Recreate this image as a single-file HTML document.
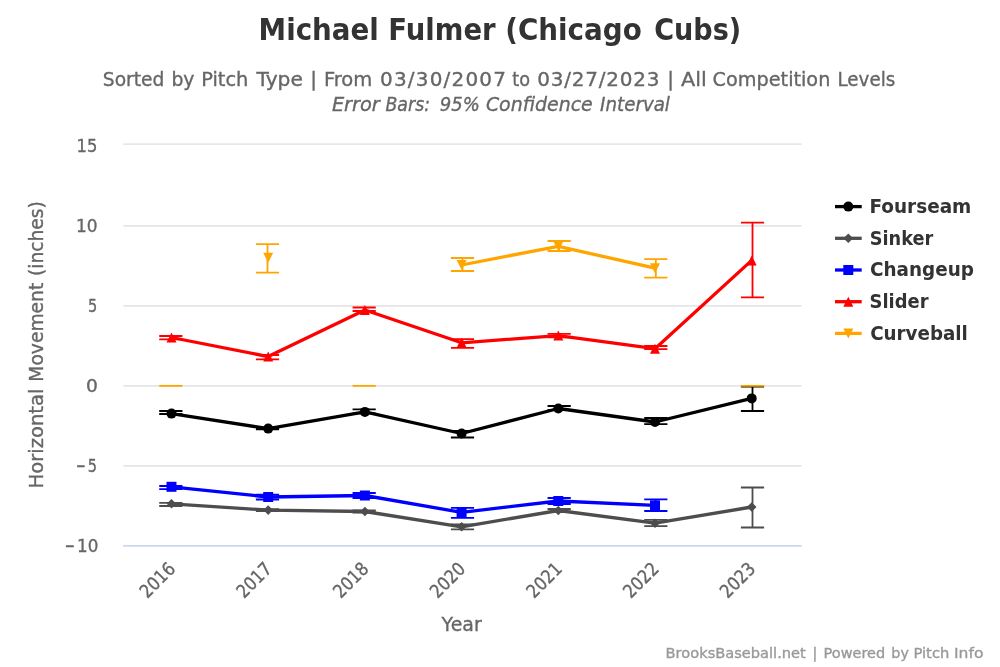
<!DOCTYPE html>
<html lang="en"><head><meta charset="utf-8"><title>Michael Fulmer (Chicago Cubs)</title>
<style>html,body{margin:0;padding:0;background:#fff;}body{width:1000px;height:667px;overflow:hidden;}svg{display:block;}text{font-family:'DejaVu Sans', 'Liberation Sans', sans-serif;}</style></head><body>
<svg width="1000" height="667" viewBox="0 0 1000 667">
<rect x="0" y="0" width="1000" height="667" fill="#ffffff"/>
<path d="M123.2 144.20L801.6 144.20" stroke="#e6e6e6" stroke-width="1.67" fill="none"/>
<path d="M123.2 225.85L801.6 225.85" stroke="#e6e6e6" stroke-width="1.67" fill="none"/>
<path d="M123.2 305.85L801.6 305.85" stroke="#e6e6e6" stroke-width="1.67" fill="none"/>
<path d="M123.2 385.85L801.6 385.85" stroke="#e6e6e6" stroke-width="1.67" fill="none"/>
<path d="M123.2 465.85L801.6 465.85" stroke="#e6e6e6" stroke-width="1.67" fill="none"/>
<path d="M123.2 545.85L801.6 545.85" stroke="#ccd6eb" stroke-width="1.67" fill="none"/>
<text x="76.54" y="151.65" font-size="18.33" fill="#666666" stroke="#666666" stroke-width="0.35" textLength="20.80" lengthAdjust="spacingAndGlyphs">15</text>
<text x="76.07" y="231.65" font-size="18.33" fill="#666666" stroke="#666666" stroke-width="0.35" textLength="21.54" lengthAdjust="spacingAndGlyphs">10</text>
<text x="88.10" y="311.65" font-size="18.33" fill="#666666" stroke="#666666" stroke-width="0.35" textLength="9.27" lengthAdjust="spacingAndGlyphs">5</text>
<text x="86.00" y="391.65" font-size="18.33" fill="#666666" stroke="#666666" stroke-width="0.35" textLength="11.87" lengthAdjust="spacingAndGlyphs">0</text>
<text y="471.65" font-size="18.33" fill="#666666" stroke="#666666" stroke-width="0.35"><tspan x="75.89" textLength="9.70" lengthAdjust="spacingAndGlyphs">−</tspan><tspan x="87.75" textLength="9.25" lengthAdjust="spacingAndGlyphs">5</tspan></text>
<text y="551.65" font-size="18.33" fill="#666666" stroke="#666666" stroke-width="0.35"><tspan x="64.70" textLength="10.23" lengthAdjust="spacingAndGlyphs">−</tspan><tspan x="77.00" textLength="21.30" lengthAdjust="spacingAndGlyphs">10</tspan></text>
<text transform="translate(43.40,0) rotate(-90)" y="0" font-size="20" fill="#666666" stroke="#666666" stroke-width="0.35"><tspan x="-488.52" textLength="100.02" lengthAdjust="spacingAndGlyphs">Horizontal</tspan> <tspan x="-381.73" textLength="99.01" lengthAdjust="spacingAndGlyphs">Movement</tspan> <tspan x="-275.94" textLength="74.75" lengthAdjust="spacingAndGlyphs">(inches)</tspan></text>
<text transform="translate(147.30,599.03) rotate(-45)" font-size="18.33" fill="#666666" stroke="#666666" stroke-width="0.35" textLength="41.17" lengthAdjust="spacingAndGlyphs">2016</text>
<text transform="translate(244.00,599.03) rotate(-45)" font-size="18.33" fill="#666666" stroke="#666666" stroke-width="0.35" textLength="41.17" lengthAdjust="spacingAndGlyphs">2017</text>
<text transform="translate(340.70,599.03) rotate(-45)" font-size="18.33" fill="#666666" stroke="#666666" stroke-width="0.35" textLength="41.17" lengthAdjust="spacingAndGlyphs">2018</text>
<text transform="translate(437.40,599.03) rotate(-45)" font-size="18.33" fill="#666666" stroke="#666666" stroke-width="0.35" textLength="41.17" lengthAdjust="spacingAndGlyphs">2020</text>
<text transform="translate(534.10,599.03) rotate(-45)" font-size="18.33" fill="#666666" stroke="#666666" stroke-width="0.35" textLength="41.17" lengthAdjust="spacingAndGlyphs">2021</text>
<text transform="translate(630.80,599.03) rotate(-45)" font-size="18.33" fill="#666666" stroke="#666666" stroke-width="0.35" textLength="41.17" lengthAdjust="spacingAndGlyphs">2022</text>
<text transform="translate(727.50,599.03) rotate(-45)" font-size="18.33" fill="#666666" stroke="#666666" stroke-width="0.35" textLength="41.17" lengthAdjust="spacingAndGlyphs">2023</text>
<text x="441.61" y="630.80" font-size="20" fill="#666666" stroke="#666666" stroke-width="0.35" textLength="40.05" lengthAdjust="spacingAndGlyphs">Year</text>
<text y="39.80" font-size="30" fill="#333333" font-weight="bold"><tspan x="258.57" textLength="120.22" lengthAdjust="spacingAndGlyphs">Michael</tspan> <tspan x="388.35" textLength="107.24" lengthAdjust="spacingAndGlyphs">Fulmer</tspan> <tspan x="505.23" textLength="136.61" lengthAdjust="spacingAndGlyphs">(Chicago</tspan> <tspan x="654.17" textLength="87.10" lengthAdjust="spacingAndGlyphs">Cubs)</tspan></text>
<text y="86.30" font-size="20" fill="#666666" stroke="#666666" stroke-width="0.35"><tspan x="102.81" textLength="61.57" lengthAdjust="spacingAndGlyphs">Sorted</tspan> <tspan x="171.40" textLength="23.06" lengthAdjust="spacingAndGlyphs">by</tspan> <tspan x="201.18" textLength="47.19" lengthAdjust="spacingAndGlyphs">Pitch</tspan> <tspan x="256.45" textLength="46.39" lengthAdjust="spacingAndGlyphs">Type</tspan> <tspan x="310.25">|</tspan> <tspan x="323.93" textLength="48.47" lengthAdjust="spacingAndGlyphs">From</tspan> <tspan x="380.00" textLength="125.99" lengthAdjust="spacing">03/30/2007</tspan> <tspan x="512.26" textLength="17.78" lengthAdjust="spacingAndGlyphs">to</tspan> <tspan x="537.18" textLength="122.30" lengthAdjust="spacing">03/27/2023</tspan> <tspan x="667.25">|</tspan> <tspan x="681.02" textLength="25.79" lengthAdjust="spacingAndGlyphs">All</tspan> <tspan x="712.62" textLength="117.73" lengthAdjust="spacingAndGlyphs">Competition</tspan> <tspan x="837.47" textLength="57.76" lengthAdjust="spacingAndGlyphs">Levels</tspan></text>
<text y="111.30" font-size="20" fill="#666666" stroke="#666666" stroke-width="0.35" font-style="italic"><tspan x="331.88" textLength="47.86" lengthAdjust="spacingAndGlyphs">Error</tspan> <tspan x="385.44" textLength="44.59" lengthAdjust="spacingAndGlyphs">Bars:</tspan> <tspan x="439.79" textLength="40.12" lengthAdjust="spacingAndGlyphs">95%</tspan> <tspan x="485.88" textLength="106.91" lengthAdjust="spacingAndGlyphs">Confidence</tspan> <tspan x="600.08" textLength="69.84" lengthAdjust="spacingAndGlyphs">Interval</tspan></text>
<g>
<path d="M171.50 413.60L268.20 428.60L364.90 411.90L461.60 433.50L558.30 408.50L655.00 422.00L751.70 398.40" fill="none" stroke="#000000" stroke-width="3.3" stroke-linejoin="round" stroke-linecap="round"/>
<circle cx="171.50" cy="413.60" r="5.0" fill="#000000"/>
<circle cx="268.20" cy="428.60" r="5.0" fill="#000000"/>
<circle cx="364.90" cy="411.90" r="5.0" fill="#000000"/>
<circle cx="461.60" cy="433.50" r="5.0" fill="#000000"/>
<circle cx="558.30" cy="408.50" r="5.0" fill="#000000"/>
<circle cx="655.00" cy="422.00" r="5.0" fill="#000000"/>
<circle cx="751.70" cy="398.40" r="5.0" fill="#000000"/>
</g>
<g>
<path d="M171.50 503.80L268.20 510.10L364.90 511.50L461.60 526.80L558.30 510.50L655.00 523.20L751.70 507.00" fill="none" stroke="#4d4d4d" stroke-width="3.3" stroke-linejoin="round" stroke-linecap="round"/>
<path d="M171.50 499.00L176.30 503.80L171.50 508.60L166.70 503.80Z" fill="#4d4d4d"/>
<path d="M268.20 505.30L273.00 510.10L268.20 514.90L263.40 510.10Z" fill="#4d4d4d"/>
<path d="M364.90 506.70L369.70 511.50L364.90 516.30L360.10 511.50Z" fill="#4d4d4d"/>
<path d="M461.60 522.00L466.40 526.80L461.60 531.60L456.80 526.80Z" fill="#4d4d4d"/>
<path d="M558.30 505.70L563.10 510.50L558.30 515.30L553.50 510.50Z" fill="#4d4d4d"/>
<path d="M655.00 518.40L659.80 523.20L655.00 528.00L650.20 523.20Z" fill="#4d4d4d"/>
<path d="M751.70 502.20L756.50 507.00L751.70 511.80L746.90 507.00Z" fill="#4d4d4d"/>
</g>
<g>
<path d="M171.50 486.80L268.20 497.00L364.90 495.50L461.60 512.40L558.30 501.00L655.00 505.30" fill="none" stroke="#0000ff" stroke-width="3.3" stroke-linejoin="round" stroke-linecap="round"/>
<rect x="166.50" y="481.80" width="10.0" height="10.0" fill="#0000ff"/>
<rect x="263.20" y="492.00" width="10.0" height="10.0" fill="#0000ff"/>
<rect x="359.90" y="490.50" width="10.0" height="10.0" fill="#0000ff"/>
<rect x="456.60" y="507.40" width="10.0" height="10.0" fill="#0000ff"/>
<rect x="553.30" y="496.00" width="10.0" height="10.0" fill="#0000ff"/>
<rect x="650.00" y="500.30" width="10.0" height="10.0" fill="#0000ff"/>
</g>
<g>
<path d="M171.50 337.50L268.20 356.60L364.90 310.00L461.60 342.80L558.30 335.60L655.00 348.70L751.70 260.40" fill="none" stroke="#ff0000" stroke-width="3.3" stroke-linejoin="round" stroke-linecap="round"/>
<path d="M171.50 332.50L176.50 342.50L166.50 342.50Z" fill="#ff0000"/>
<path d="M268.20 351.60L273.20 361.60L263.20 361.60Z" fill="#ff0000"/>
<path d="M364.90 305.00L369.90 315.00L359.90 315.00Z" fill="#ff0000"/>
<path d="M461.60 337.80L466.60 347.80L456.60 347.80Z" fill="#ff0000"/>
<path d="M558.30 330.60L563.30 340.60L553.30 340.60Z" fill="#ff0000"/>
<path d="M655.00 343.70L660.00 353.70L650.00 353.70Z" fill="#ff0000"/>
<path d="M751.70 255.40L756.70 265.40L746.70 265.40Z" fill="#ff0000"/>
</g>
<g>
<path d="M461.60 265.00L558.30 246.30L655.00 268.20" fill="none" stroke="#ffa500" stroke-width="3.3" stroke-linejoin="round" stroke-linecap="round"/>
<path d="M263.20 252.80L273.20 252.80L268.20 262.80Z" fill="#ffa500"/>
<path d="M456.60 260.00L466.60 260.00L461.60 270.00Z" fill="#ffa500"/>
<path d="M553.30 241.30L563.30 241.30L558.30 251.30Z" fill="#ffa500"/>
<path d="M650.00 263.20L660.00 263.20L655.00 273.20Z" fill="#ffa500"/>
</g>
<g>
<path d="M170.83 411.00L170.83 414.00M159.23 411.00L182.43 411.00M159.23 414.00L182.43 414.00" stroke="#000000" stroke-width="1.8" fill="none"/>
<path d="M267.50 428.60L267.50 429.40M255.90 428.60L279.10 428.60M255.90 429.40L279.10 429.40" stroke="#000000" stroke-width="1.8" fill="none"/>
<path d="M364.17 409.30L364.17 413.30M352.57 409.30L375.77 409.30M352.57 413.30L375.77 413.30" stroke="#000000" stroke-width="1.8" fill="none"/>
<path d="M462.50 431.00L462.50 437.50M450.90 431.00L474.10 431.00M450.90 437.50L474.10 437.50" stroke="#000000" stroke-width="1.8" fill="none"/>
<path d="M559.17 406.00L559.17 410.00M547.57 406.00L570.77 406.00M547.57 410.00L570.77 410.00" stroke="#000000" stroke-width="1.8" fill="none"/>
<path d="M655.83 418.00L655.83 424.20M644.23 418.00L667.43 418.00M644.23 424.20L667.43 424.20" stroke="#000000" stroke-width="1.8" fill="none"/>
<path d="M752.50 386.60L752.50 411.00M740.90 386.60L764.10 386.60M740.90 411.00L764.10 411.00" stroke="#000000" stroke-width="1.8" fill="none"/>
</g>
<g>
<path d="M170.83 502.80L170.83 506.00M159.23 502.80L182.43 502.80M159.23 506.00L182.43 506.00" stroke="#4d4d4d" stroke-width="1.8" fill="none"/>
<path d="M267.50 509.20L267.50 511.00M255.90 509.20L279.10 509.20M255.90 511.00L279.10 511.00" stroke="#4d4d4d" stroke-width="1.8" fill="none"/>
<path d="M364.17 510.50L364.17 512.50M352.57 510.50L375.77 510.50M352.57 512.50L375.77 512.50" stroke="#4d4d4d" stroke-width="1.8" fill="none"/>
<path d="M462.50 524.50L462.50 529.40M450.90 524.50L474.10 524.50M450.90 529.40L474.10 529.40" stroke="#4d4d4d" stroke-width="1.8" fill="none"/>
<path d="M559.17 509.00L559.17 512.00M547.57 509.00L570.77 509.00M547.57 512.00L570.77 512.00" stroke="#4d4d4d" stroke-width="1.8" fill="none"/>
<path d="M655.83 519.80L655.83 526.20M644.23 519.80L667.43 519.80M644.23 526.20L667.43 526.20" stroke="#4d4d4d" stroke-width="1.8" fill="none"/>
<path d="M752.50 487.50L752.50 527.50M740.90 487.50L764.10 487.50M740.90 527.50L764.10 527.50" stroke="#4d4d4d" stroke-width="1.8" fill="none"/>
</g>
<g>
<path d="M170.83 486.00L170.83 489.20M159.23 486.00L182.43 486.00M159.23 489.20L182.43 489.20" stroke="#0000ff" stroke-width="1.8" fill="none"/>
<path d="M267.50 494.70L267.50 499.50M255.90 494.70L279.10 494.70M255.90 499.50L279.10 499.50" stroke="#0000ff" stroke-width="1.8" fill="none"/>
<path d="M364.17 493.00L364.17 498.00M352.57 493.00L375.77 493.00M352.57 498.00L375.77 498.00" stroke="#0000ff" stroke-width="1.8" fill="none"/>
<path d="M462.50 507.80L462.50 517.80M450.90 507.80L474.10 507.80M450.90 517.80L474.10 517.80" stroke="#0000ff" stroke-width="1.8" fill="none"/>
<path d="M559.17 498.00L559.17 504.00M547.57 498.00L570.77 498.00M547.57 504.00L570.77 504.00" stroke="#0000ff" stroke-width="1.8" fill="none"/>
<path d="M655.83 499.40L655.83 511.00M644.23 499.40L667.43 499.40M644.23 511.00L667.43 511.00" stroke="#0000ff" stroke-width="1.8" fill="none"/>
</g>
<g>
<path d="M170.83 336.00L170.83 339.30M159.23 336.00L182.43 336.00M159.23 339.30L182.43 339.30" stroke="#ff0000" stroke-width="1.8" fill="none"/>
<path d="M267.50 355.00L267.50 359.30M255.90 355.00L279.10 355.00M255.90 359.30L279.10 359.30" stroke="#ff0000" stroke-width="1.8" fill="none"/>
<path d="M364.17 307.50L364.17 311.00M352.57 307.50L375.77 307.50M352.57 311.00L375.77 311.00" stroke="#ff0000" stroke-width="1.8" fill="none"/>
<path d="M462.50 339.20L462.50 347.80M450.90 339.20L474.10 339.20M450.90 347.80L474.10 347.80" stroke="#ff0000" stroke-width="1.8" fill="none"/>
<path d="M559.17 333.80L559.17 337.40M547.57 333.80L570.77 333.80M547.57 337.40L570.77 337.40" stroke="#ff0000" stroke-width="1.8" fill="none"/>
<path d="M655.83 346.00L655.83 349.20M644.23 346.00L667.43 346.00M644.23 349.20L667.43 349.20" stroke="#ff0000" stroke-width="1.8" fill="none"/>
<path d="M752.50 222.70L752.50 297.40M740.90 222.70L764.10 222.70M740.90 297.40L764.10 297.40" stroke="#ff0000" stroke-width="1.8" fill="none"/>
</g>
<g>
<path d="M159.23 385.85L182.43 385.85" stroke="#ffa500" stroke-width="1.8" fill="none"/>
<path d="M267.50 244.20L267.50 272.60M255.90 244.20L279.10 244.20M255.90 272.60L279.10 272.60" stroke="#ffa500" stroke-width="1.8" fill="none"/>
<path d="M352.57 385.85L375.77 385.85" stroke="#ffa500" stroke-width="1.8" fill="none"/>
<path d="M462.50 258.00L462.50 271.00M450.90 258.00L474.10 258.00M450.90 271.00L474.10 271.00" stroke="#ffa500" stroke-width="1.8" fill="none"/>
<path d="M559.17 241.00L559.17 251.00M547.57 241.00L570.77 241.00M547.57 251.00L570.77 251.00" stroke="#ffa500" stroke-width="1.8" fill="none"/>
<path d="M655.83 259.20L655.83 277.60M644.23 259.20L667.43 259.20M644.23 277.60L667.43 277.60" stroke="#ffa500" stroke-width="1.8" fill="none"/>
<path d="M740.90 385.85L764.10 385.85" stroke="#ffa500" stroke-width="1.8" fill="none"/>
</g>
<path d="M835 206.6L861.7 206.6" stroke="#000000" stroke-width="3.3" fill="none"/>
<circle cx="848.30" cy="206.60" r="5.0" fill="#000000"/>
<text x="869.38" y="213.00" font-size="20" fill="#333333" font-weight="bold" textLength="101.96" lengthAdjust="spacingAndGlyphs">Fourseam</text>
<path d="M835 238.29999999999998L861.7 238.29999999999998" stroke="#4d4d4d" stroke-width="3.3" fill="none"/>
<path d="M848.30 233.50L853.10 238.30L848.30 243.10L843.50 238.30Z" fill="#4d4d4d"/>
<text x="869.77" y="244.70" font-size="20" fill="#333333" font-weight="bold" textLength="63.49" lengthAdjust="spacingAndGlyphs">Sinker</text>
<path d="M835 270.0L861.7 270.0" stroke="#0000ff" stroke-width="3.3" fill="none"/>
<rect x="843.30" y="265.00" width="10.0" height="10.0" fill="#0000ff"/>
<text x="870.04" y="276.40" font-size="20" fill="#333333" font-weight="bold" textLength="103.88" lengthAdjust="spacingAndGlyphs">Changeup</text>
<path d="M835 301.7L861.7 301.7" stroke="#ff0000" stroke-width="3.3" fill="none"/>
<path d="M848.30 296.70L853.30 306.70L843.30 306.70Z" fill="#ff0000"/>
<text x="869.57" y="308.10" font-size="20" fill="#333333" font-weight="bold" textLength="58.89" lengthAdjust="spacingAndGlyphs">Slider</text>
<path d="M835 333.4L861.7 333.4" stroke="#ffa500" stroke-width="3.3" fill="none"/>
<path d="M843.30 328.40L853.30 328.40L848.30 338.40Z" fill="#ffa500"/>
<text x="870.14" y="339.80" font-size="20" fill="#333333" font-weight="bold" textLength="97.70" lengthAdjust="spacingAndGlyphs">Curveball</text>
<text y="658.40" font-size="14.2" fill="#999999" stroke="#999999" stroke-width="0.35"><tspan x="665.58" textLength="140.24" lengthAdjust="spacingAndGlyphs">BrooksBaseball.net</tspan> <tspan x="812.47">|</tspan> <tspan x="823.63" textLength="61.58" lengthAdjust="spacingAndGlyphs">Powered</tspan> <tspan x="891.34" textLength="17.55" lengthAdjust="spacingAndGlyphs">by</tspan> <tspan x="913.46" textLength="35.86" lengthAdjust="spacingAndGlyphs">Pitch</tspan> <tspan x="953.98" textLength="29.46" lengthAdjust="spacingAndGlyphs">Info</tspan></text>
</svg></body></html>
